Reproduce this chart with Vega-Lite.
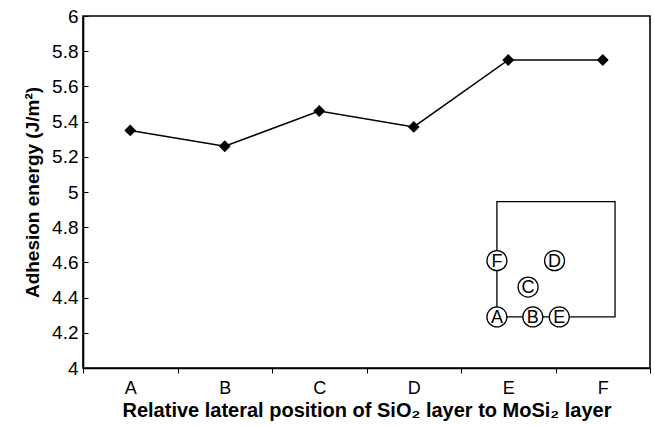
{
  "$schema": "https://vega.github.io/schema/vega-lite/v6.json",
  "autosize": {"type": "none"},
  "padding": {"left": 83, "top": 16, "right": 4, "bottom": 59},
  "width": 567,
  "height": 352,
  "background": "white",
  "config": {
    "font": "Liberation Sans",
    "view": {"stroke": "black", "strokeWidth": 1.6}
  },
  "datasets": {
    "energy": [
      {"position": "A", "energy": 5.35},
      {"position": "B", "energy": 5.26},
      {"position": "C", "energy": 5.46},
      {"position": "D", "energy": 5.37},
      {"position": "E", "energy": 5.75},
      {"position": "F", "energy": 5.75}
    ],
    "inset": [
      {"label": "F", "ix": 4.38, "iy": 4.61},
      {"label": "D", "ix": 4.99, "iy": 4.61},
      {"label": "C", "ix": 4.71, "iy": 4.46},
      {"label": "A", "ix": 4.38, "iy": 4.29},
      {"label": "B", "ix": 4.76, "iy": 4.29},
      {"label": "E", "ix": 5.04, "iy": 4.29}
    ],
    "box": [
      {"x1": 4.38, "x2": 5.63, "y1": 4.29, "y2": 4.945}
    ]
  },
  "layer": [
    {
      "data": {"name": "energy"},
      "encoding": {
        "x": {
          "field": "position", "type": "nominal", "sort": null,
          "scale": {"type": "band", "paddingInner": 0, "paddingOuter": 0},
          "axis": {
            "title": "Relative lateral position of SiO₂ layer to MoSi₂ layer",
            "titleFont": "Liberation Sans", "titleFontSize": 20, "titleFontWeight": "bold", "titleColor": "black",
            "titlePadding": 3,
            "labelAngle": 0, "labelFontSize": 18, "labelColor": "black", "labelPadding": 6,
            "tickBand": "extent", "tickColor": "black", "tickSize": 5, "tickWidth": 1,
            "domainColor": "black", "domainWidth": 1.6, "grid": false
          }
        },
        "y": {
          "field": "energy", "type": "quantitative",
          "scale": {"domain": [4, 6], "nice": false, "zero": false},
          "axis": {
            "title": "Adhesion energy (J/m²)",
            "titleFontSize": 19, "titleFontWeight": "bold", "titleColor": "black",
            "titlePadding": 9,
            "values": [4, 4.2, 4.4, 4.6, 4.8, 5, 5.2, 5.4, 5.6, 5.8, 6],
            "format": "~g",
            "labelFontSize": 19, "labelColor": "black", "labelPadding": 10,
            "tickColor": "black", "tickSize": -5, "tickWidth": 1,
            "domainColor": "black", "domainWidth": 1.6, "grid": false
          }
        }
      },
      "layer": [
        {"mark": {"type": "line", "color": "black", "strokeWidth": 1.5}},
        {"mark": {"type": "point", "shape": "diamond", "filled": true, "color": "black", "size": 140, "opacity": 1}}
      ]
    },
    {
      "data": {"name": "box"},
      "mark": {"type": "rect", "fill": null, "stroke": "black", "strokeWidth": 1.3},
      "encoding": {
        "x": {"field": "x1", "type": "quantitative", "scale": {"domain": [0, 6], "nice": false, "zero": false}, "axis": null},
        "x2": {"field": "x2"},
        "y": {"field": "y1", "type": "quantitative", "scale": {"domain": [4, 6], "nice": false, "zero": false}, "axis": null},
        "y2": {"field": "y2"}
      }
    },
    {
      "data": {"name": "inset"},
      "encoding": {
        "x": {"field": "ix", "type": "quantitative", "scale": {"domain": [0, 6], "nice": false, "zero": false}, "axis": null},
        "y": {"field": "iy", "type": "quantitative", "scale": {"domain": [4, 6], "nice": false, "zero": false}, "axis": null}
      },
      "layer": [
        {"mark": {"type": "point", "shape": "circle", "filled": true, "fill": "white", "stroke": "black", "strokeWidth": 1.3, "size": 400, "opacity": 1}},
        {"mark": {"type": "text", "fontSize": 18, "color": "black", "baseline": "middle", "align": "center", "dy": 1}, "encoding": {"text": {"field": "label"}}}
      ]
    }
  ],
  "resolve": {"scale": {"x": "independent", "y": "independent"}}
}
